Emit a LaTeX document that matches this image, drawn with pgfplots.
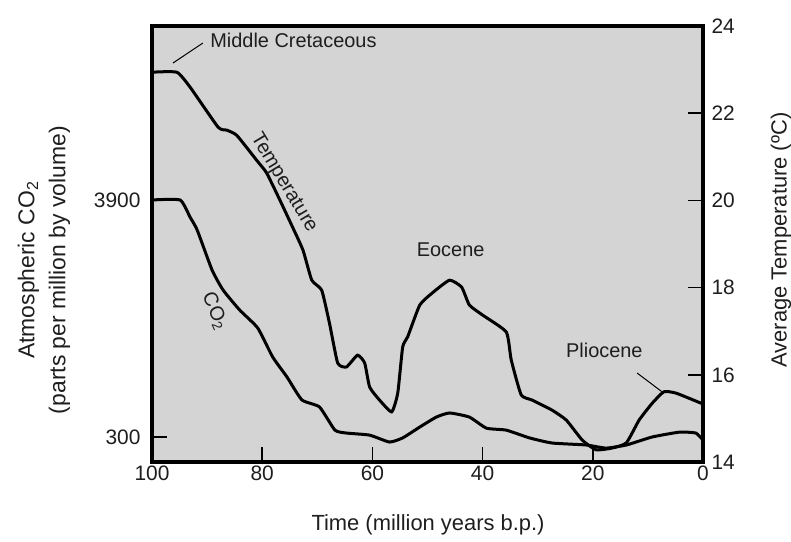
\documentclass[border=0pt]{standalone}
\usepackage{pgfplots}
\pgfplotsset{compat=1.18}
\usepackage{fontspec}
\setmainfont{Liberation Sans}
\definecolor{bg}{RGB}{212,212,212}
\definecolor{txt}{RGB}{30,30,30}

\pgfplotstableread{
x T
100 22.94
95.5 22.94
93.1 22.60
88.0 21.68
86.4 21.61
84.6 21.49
81.0 20.92
79.2 20.63
76.8 20.01
74.5 19.39
72.6 18.86
71.0 18.17
69.2 17.94
67.8 17.19
66.3 16.27
64.7 16.18
62.7 16.45
61.4 16.27
60.5 15.72
58.7 15.42
56.5 15.15
55.4 15.58
54.5 16.64
53.6 16.87
51.4 17.60
49.1 17.88
46.0 18.17
43.8 18.01
42.4 17.60
40.0 17.37
35.7 16.98
34.8 16.34
33.0 15.54
31.0 15.42
27.4 15.19
24.8 14.96
21.9 14.50
19.4 14.28
16.5 14.32
13.9 14.44
11.6 14.96
9.2 15.35
7.1 15.61
4.9 15.58
0 15.33
}\temptable

\pgfplotstableread{
x C
100 3900
94.9 3900
93.1 3243
91.8 2818
89.1 1828
87.1 1472
84.1 1186
80.8 975
78.1 713
75.5 574
72.8 448
69.6 415
66.8 323
64.7 313
60.5 306
56.9 284
54.5 297
51.4 334
48.4 372
46.0 389
42.4 372
39.3 330
35.7 323
31.5 297
27.4 281
21.2 275
17.6 266
13.9 275
9.2 300
4.3 316
1.3 313
0 290
}\cotable

\begin{document}
\begin{tikzpicture}
\begin{axis}[
  at={(0,0)}, anchor=south west,
  scale only axis, width=551bp, height=436bp,
  xmin=0, xmax=100, x dir=reverse,
  xtick={0,20,40,60,80,100},
  ymode=log, ymin=228.8, ymax=25640,
  ytick={300,3900}, yticklabels={300,3900},
  yminorticks=false, xminorticks=false,
  xtick pos=bottom, ytick pos=left,
  tick align=inside,
  major tick length=15bp,
  every tick/.style={black, line width=1.5bp},
  axis line style={line width=3.5bp},
  axis background/.style={fill=bg},
  tick label style={font=\fontsize{21}{25}\selectfont, text=txt},
  /pgf/number format/assume math mode=true,
  yticklabel style={xshift=-8bp},
  xlabel={Time (million years b.p.)},
  xlabel style={at={(axis description cs:0.501,-0.1445)}, anchor=center, font=\fontsize{22}{26}\selectfont, text=txt},
  ylabel={Atmospheric CO\textsubscript{2}\\(parts per million by volume)},
  ylabel style={at={(axis description cs:-0.196,0.44)}, anchor=center, align=center, font=\fontsize{23}{31}\selectfont, text=txt},
]
\addplot[black, line width=3bp, smooth, tension=0.3] table[x=x, y=C] {\cotable};
\end{axis}

\begin{axis}[
  at={(0,0)}, anchor=south west,
  scale only axis, width=551bp, height=436bp,
  xmin=0, xmax=100, x dir=reverse,
  ymin=14, ymax=24,
  ytick={14,16,18,20,22,24},
  axis x line=none, axis y line*=right,
  tick align=inside,
  major tick length=15bp,
  every tick/.style={black, line width=1.5bp},
  axis line style={line width=3.5bp, -},
  tick label style={font=\fontsize{21}{25}\selectfont, text=txt},
  /pgf/number format/assume math mode=true,
  yticklabel style={xshift=5bp},
  ylabel={Average Temperature (ºC)},
  ylabel style={at={(axis description cs:1.1416,0.509)}, anchor=center, rotate=0, font=\fontsize{22}{26}\selectfont, text=txt},
  clip=false,
]
\addplot[black, line width=3bp, smooth, tension=0.3] table[x=x, y=T] {\temptable};
\draw[black, line width=1bp] (axis cs:96.2,23.15) -- (axis cs:90.76,23.61);
\node[anchor=west, font=\fontsize{20}{24}\selectfont, text=txt] at (axis cs:90.04,23.68) {Middle Cretaceous};
\node[rotate=-59, font=\fontsize{20}{24}\selectfont, text=txt] at (axis cs:76.1,20.4) {Temperature};
\node[rotate=-66, font=\fontsize{20}{24}\selectfont, text=txt] at (axis cs:88.6,17.46) {CO\textsubscript{2}};
\node[font=\fontsize{20}{24}\selectfont, text=txt] at (axis cs:45.8,18.86) {Eocene};
\node[font=\fontsize{20}{24}\selectfont, text=txt] at (axis cs:17.9,16.57) {Pliocene};
\draw[black, line width=1bp] (axis cs:11.96,16.04) -- (axis cs:7.43,15.61);
\end{axis}
\pgfresetboundingbox
\path[use as bounding box] (-152bp,-80bp) rectangle (639bp,462bp);
\end{tikzpicture}
\end{document}
